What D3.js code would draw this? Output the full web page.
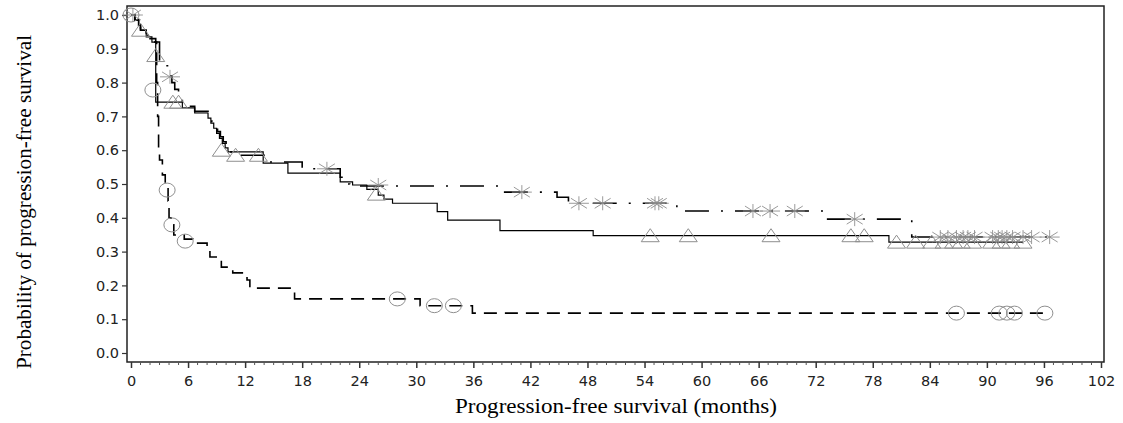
<!DOCTYPE html>
<html><head><meta charset="utf-8">
<script src="https://cdn.jsdelivr.net/npm/d3@7"></script>
<style>body{margin:0;background:#fff}svg{display:block}</style>
</head><body>
<svg id="c" width="1123" height="423"></svg>
<script>
// ---- data ----
const xTicks = [0,6,12,18,24,30,36,42,48,54,60,66,72,78,84,90,96,102];
const yTicks = [0,0.1,0.2,0.3,0.4,0.5,0.6,0.7,0.8,0.9,1.0];
const xTitle = "Progression-free survival (months)";
const yTitle = "Probability of progression-free survival";

// group A: solid line, triangle censor marks [month, survival]
const solidSteps = [[0,1.0],[0.4,0.985],[0.8,0.97],[1.0,0.955],[1.6,0.935],[2.2,0.92],[2.6,0.742],[5.4,0.725],[6.7,0.71],[8.1,0.695],[8.4,0.68],[8.7,0.665],[9.0,0.65],[9.3,0.635],[9.6,0.62],[9.9,0.607],[10.2,0.595],[13.9,0.562],[16.5,0.532],[22.0,0.506],[23.3,0.497],[24.8,0.484],[26.0,0.467],[26.6,0.455],[27.5,0.443],[32.2,0.418],[33.3,0.393],[38.8,0.362],[48.6,0.347],[79.7,0.328],[93.8,0.328]];
const solidCensor = [[1.0,0.955],[2.6,0.88],[4.4,0.742],[5.0,0.742],[9.5,0.60],[11.0,0.585],[13.4,0.585],[25.8,0.47],[54.6,0.347],[58.6,0.347],[67.3,0.347],[75.7,0.347],[77.1,0.347],[80.5,0.328],[82.5,0.328],[84.2,0.328],[85.5,0.328],[86.5,0.328],[87.3,0.328],[88.5,0.328],[90.5,0.328],[91.5,0.328],[92.5,0.328],[93.8,0.328]];

// group B: dash-dot line, star censor marks
const dashDotSteps = [[0,1.0],[0.4,0.985],[0.8,0.97],[1.0,0.955],[1.6,0.94],[2.0,0.93],[2.4,0.92],[3.0,0.85],[4.0,0.82],[4.3,0.80],[4.6,0.78],[5.0,0.76],[5.4,0.74],[5.6,0.73],[6.7,0.715],[8.1,0.70],[8.5,0.685],[8.8,0.67],[9.1,0.655],[9.4,0.64],[9.7,0.625],[10.0,0.61],[10.4,0.595],[11.5,0.585],[14.0,0.565],[18.0,0.545],[22.0,0.52],[22.5,0.50],[23.0,0.494],[38.8,0.476],[44.8,0.461],[46.0,0.443],[57.4,0.42],[73.0,0.396],[82.1,0.343],[96.8,0.343]];
const dashDotCensor = [[0.2,1.0],[4.1,0.817],[20.6,0.545],[26.0,0.497],[41.1,0.476],[47.1,0.443],[49.6,0.443],[55.1,0.443],[55.5,0.443],[65.4,0.42],[67.2,0.42],[69.8,0.42],[76.1,0.396],[85.1,0.343],[85.9,0.343],[86.8,0.343],[87.5,0.343],[88.0,0.343],[88.7,0.343],[90.6,0.343],[91.2,0.343],[91.6,0.343],[92.1,0.343],[92.7,0.343],[93.8,0.343],[94.7,0.343],[96.6,0.343]];

// group C: dashed line, circle censor marks
const dashedSteps = [[0,1.0],[0.4,0.985],[0.8,0.97],[1.0,0.955],[1.6,0.94],[2.0,0.93],[2.6,0.92],[2.7,0.80],[2.8,0.70],[2.9,0.60],[3.0,0.571],[3.3,0.527],[3.6,0.50],[3.9,0.45],[4.0,0.40],[4.2,0.379],[4.5,0.349],[5.6,0.337],[6.5,0.325],[8.0,0.31],[8.3,0.284],[9.5,0.254],[10.7,0.237],[12.2,0.216],[12.5,0.192],[17.2,0.16],[30.4,0.14],[35.9,0.118],[96.3,0.118]];
const dashedCensor = [[0,1.0],[2.3,0.778],[3.8,0.482],[4.3,0.379],[5.7,0.331],[28.0,0.16],[31.9,0.14],[33.9,0.14],[86.8,0.118],[91.3,0.118],[92.1,0.118],[92.9,0.118],[96.1,0.118]];

// ---- layout ----
const svg = d3.select("#c");
const frame = {l:127, r:1104, t:6, b:362};
const x = d3.scaleLinear().domain([0,102]).range([131,1101]);
const y = d3.scaleLinear().domain([0,1]).range([353,15]);
const markerColor = "#8f8f8f";

// frame
svg.append("rect").attr("x",frame.l).attr("y",frame.t)
  .attr("width",frame.r-frame.l).attr("height",frame.b-frame.t)
  .attr("fill","none").attr("stroke","#222").attr("stroke-width",1.5);

// x axis (ticks down from bottom frame)
const xAxis = d3.axisBottom(x).tickValues(xTicks).tickSize(6).tickSizeOuter(0).tickFormat(d3.format("d"));
const gx = svg.append("g").attr("transform",`translate(0,${frame.b})`).call(xAxis);
gx.select(".domain").remove();
gx.selectAll(".tick line").attr("stroke","#333").attr("stroke-width",1.5);
gx.selectAll(".tick text").attr("font-family","DejaVu Sans, sans-serif").attr("font-size",14.5).attr("fill","#222").attr("dy","1.05em");
// minor ticks each month
const minor = d3.range(0,103).filter(d=>d%6!==0);
svg.append("g").selectAll("line").data(minor).join("line")
  .attr("x1",d=>x(d)).attr("x2",d=>x(d)).attr("y1",frame.b).attr("y2",frame.b+3)
  .attr("stroke","#555").attr("stroke-width",1);

// y axis
const yAxis = d3.axisLeft(y).tickValues(yTicks).tickSize(5).tickSizeOuter(0).tickFormat(d3.format(".1f"));
const gy = svg.append("g").attr("transform",`translate(${frame.l},0)`).call(yAxis);
gy.select(".domain").remove();
gy.selectAll(".tick line").attr("stroke","#333").attr("stroke-width",1.2);
gy.selectAll(".tick text").attr("font-family","DejaVu Sans, sans-serif").attr("font-size",14.5).attr("fill","#222");

// titles
svg.append("text").attr("x",616).attr("y",413).attr("text-anchor","middle")
  .attr("font-family","Liberation Serif, Times New Roman, serif").attr("font-size",21)
  .attr("textLength",322).attr("lengthAdjust","spacingAndGlyphs").attr("fill","#000").text(xTitle);
svg.append("text").attr("transform","translate(31,202) rotate(-90)").attr("text-anchor","middle")
  .attr("font-family","Liberation Serif, Times New Roman, serif").attr("font-size",21)
  .attr("textLength",334).attr("lengthAdjust","spacingAndGlyphs").attr("fill","#000").text(yTitle);

// curves
const line = d3.line().x(d=>x(d[0])).y(d=>y(d[1])).curve(d3.curveStepAfter);
const g = svg.append("g");
g.append("path").datum(dashedSteps).attr("d",line).attr("fill","none").attr("stroke","#000")
  .attr("stroke-width",1.6).attr("stroke-dasharray","13,8");
g.append("path").datum(dashDotSteps).attr("d",line).attr("fill","none").attr("stroke","#000")
  .attr("stroke-width",1.6).attr("stroke-dasharray","24,12,2,12");
g.append("path").datum(solidSteps).attr("d",line).attr("fill","none").attr("stroke","#000")
  .attr("stroke-width",1.2);

// markers
const triPath = "M0,-7L9,6L-9,6Z";
g.append("g").selectAll("path").data(solidCensor).join("path")
  .attr("transform",d=>`translate(${x(d[0])},${y(d[1])})`).attr("d",triPath)
  .attr("fill","none").attr("stroke",markerColor).attr("stroke-width",1);
const starPath = "M-10,0L10,0M0,-7L0,7M-8,-5L8,5M-8,5L8,-5";
g.append("g").selectAll("path").data(dashDotCensor).join("path")
  .attr("transform",d=>`translate(${x(d[0])},${y(d[1])})`).attr("d",starPath)
  .attr("fill","none").attr("stroke",markerColor).attr("stroke-width",0.9);
g.append("g").selectAll("ellipse").data(dashedCensor).join("ellipse")
  .attr("cx",d=>x(d[0])).attr("cy",d=>y(d[1])).attr("rx",8).attr("ry",7)
  .attr("fill","none").attr("stroke",markerColor).attr("stroke-width",1);
</script>
</body></html>
